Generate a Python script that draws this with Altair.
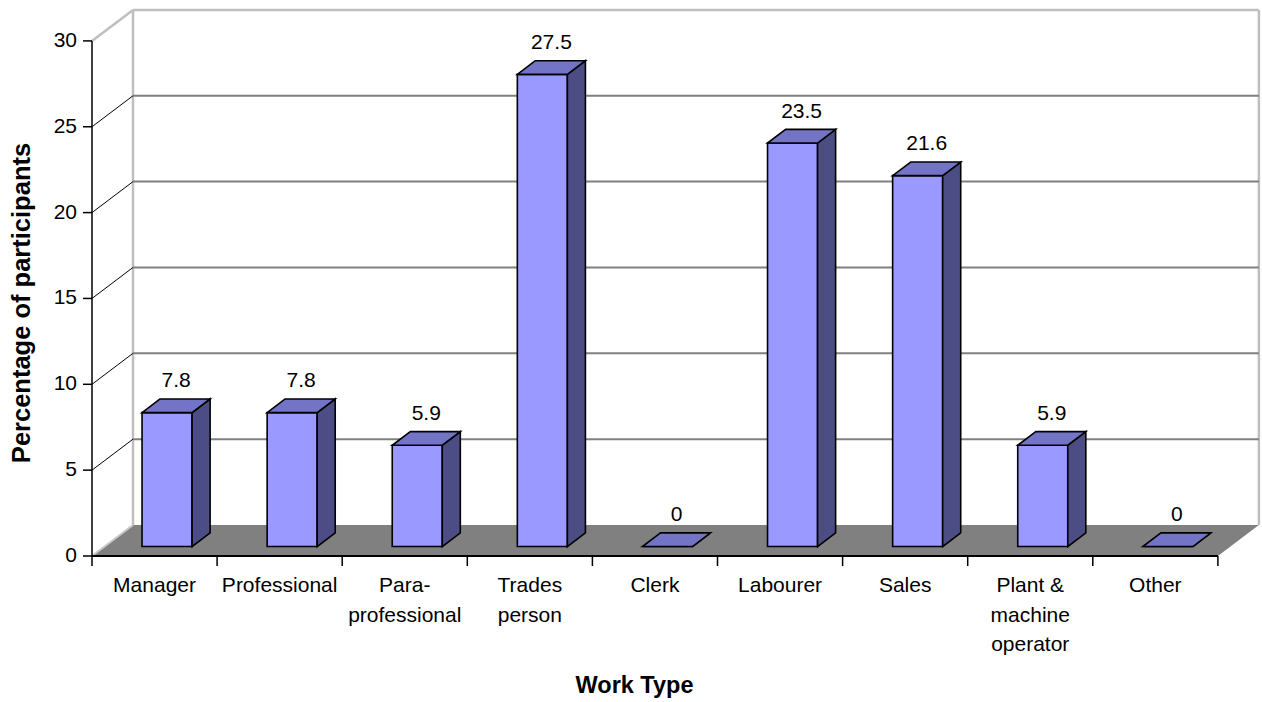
import altair as alt
import pandas as pd

# ---- data ----
categories = ["Manager", "Professional", "Para-\nprofessional", "Trades\nperson", "Clerk",
              "Labourer", "Sales", "Plant &\nmachine\noperator", "Other"]
values = [7.8, 7.8, 5.9, 27.5, 0, 23.5, 21.6, 5.9, 0]
y_ticks = [0, 5, 10, 15, 20, 25, 30]
grid_vals = [5, 10, 15, 20, 25]
y_top = 30
x_title = "Work Type"
y_title = "Percentage of participants"

# ---- geometry / style ----
PX_CAT = 125.1      # pixels per category
PX_UNIT = 17.17     # pixels per value unit
W, H = 1170, 556
X_MAX = W / PX_CAT
Y_MAX = H / PX_UNIT
DX = 41 / PX_CAT    # 3D depth offset (x, in category units)
DY = 31 / PX_UNIT   # 3D depth offset (y, in value units)
F1, F2 = 0.305, 0.745   # front/back depth fraction of bars
BL, BR = 0.3, 0.7       # bar left/right within category
N = len(categories)
FONT = "Liberation Sans"

xs = alt.Scale(domain=[0, X_MAX], nice=False, zero=False)
ys = alt.Scale(domain=[0, Y_MAX], nice=False, zero=False)

def X(f="x"):
    return alt.X(f"{f}:Q", scale=xs, axis=None)

def Y(f="y"):
    return alt.Y(f"{f}:Q", scale=ys, axis=None)

def segs(rows):
    return pd.DataFrame(rows, columns=["x", "y", "x2", "y2"])

def rules(df, **kw):
    return alt.Chart(df).mark_rule(**kw).encode(x=X(), y=Y(), x2="x2", y2="y2")

# walls
wall = segs([
    (DX, DY, DX, y_top + DY),
    (DX, y_top + DY, N + DX, y_top + DY),
    (N + DX, DY, N + DX, y_top + DY),
    (0, y_top, DX, y_top + DY),
])
wall_layer = rules(wall, color="#BFBFBF", strokeWidth=2.5)
back_layer = rules(segs([(DX, v + DY, N + DX, v + DY) for v in grid_vals]),
                   color="#808080", strokeWidth=2)
diag_layer = rules(segs([(0, v, DX, v + DY) for v in grid_vals]),
                   color="#000000", strokeWidth=1)

# floor
floor = pd.DataFrame({"y": [0, DY], "x": [0, DX], "x2": [N, N + DX]})
floor_layer = alt.Chart(floor).mark_area(orient="horizontal", color="#808080", opacity=1).encode(
    y=Y(), x=X(), x2="x2")
floor_edge_layer = rules(segs([(0, 0, DX, DY)]), color="#C8C8C8", strokeWidth=2)

# axes drawn as marks
TICK_X = 9 / PX_CAT
TICK_Y = 10 / PX_UNIT
yaxis_layer = rules(segs([(0, 0, 0, y_top)]), color="#000000", strokeWidth=1.5)
ytick_layer = rules(segs([(-TICK_X, v, 0, v) for v in y_ticks]), color="#000000", strokeWidth=1.5)
front_edge_layer = rules(segs([(0, 0, N, 0)]), color="#000000", strokeWidth=2)
xtick_layer = rules(segs([(i, -TICK_Y, i, 0) for i in range(N + 1)]), color="#000000", strokeWidth=1.5)

ylab_df = pd.DataFrame({"x": [0] * len(y_ticks), "y": y_ticks, "t": [str(v) for v in y_ticks]})
ylab_layer = alt.Chart(ylab_df).mark_text(
    font=FONT, fontSize=21, color="#000000", align="right", baseline="middle", dx=-15).encode(
    x=X(), y=Y(), text="t:N")

title_df = pd.DataFrame({
    "x": [(634.5 - 92) / PX_CAT, (22 - 92) / PX_CAT],
    "y": [-(686 - 556) / PX_UNIT, (556 - 303) / PX_UNIT],
    "t": [x_title, y_title],
})
xtitle_layer = alt.Chart(title_df.iloc[[0]]).mark_text(
    font=FONT, fontSize=23.5, fontWeight="bold", color="#000000", align="center",
    baseline="middle").encode(x=X(), y=Y(), text="t:N")
ytitle_layer = alt.Chart(title_df.iloc[[1]]).mark_text(
    font=FONT, fontSize=25.5, fontWeight="bold", color="#000000", align="center",
    baseline="middle", angle=270).encode(x=X(), y=Y(), text="t:N")

# bars
front_rows, top_rows, side_rows, lab_rows = [], [], [], []
for i, v in enumerate(values):
    front_rows.append({"x": i + BL + F1 * DX, "x2": i + BR + F1 * DX,
                       "y": F1 * DY, "y2": F1 * DY + v})
    top_rows.append({"id": i, "y": F1 * DY + v, "x": i + BL + F1 * DX, "x2": i + BR + F1 * DX})
    top_rows.append({"id": i, "y": F2 * DY + v, "x": i + BL + F2 * DX, "x2": i + BR + F2 * DX})
    side_rows.append({"id": i, "x": i + BR + F1 * DX, "y": F1 * DY, "y2": F1 * DY + v})
    side_rows.append({"id": i, "x": i + BR + F2 * DX, "y": F2 * DY, "y2": F2 * DY + v})
    m = (F1 + F2) / 2
    lab_rows.append({"x": i + 0.5 + m * DX, "y": v + m * DY, "t": f"{v:g}"})

front_layer = alt.Chart(pd.DataFrame(front_rows)).mark_rect(
    fill="#9999FF", stroke="#000000", strokeWidth=1.6).encode(
    x=X(), x2="x2", y=Y(), y2="y2")
top_layer = alt.Chart(pd.DataFrame(top_rows)).mark_area(
    orient="horizontal", fill="#7474C6", stroke="#000000", strokeWidth=1.6,
    strokeJoin="miter", opacity=1).encode(
    y=Y(), x=X(), x2="x2", detail="id:N")
side_layer = alt.Chart(pd.DataFrame(side_rows)).mark_area(
    orient="vertical", fill="#4D4D85", stroke="#000000", strokeWidth=1.6,
    strokeJoin="miter", opacity=1).encode(
    x=X(), y=Y(), y2="y2", detail="id:N")
val_layer = alt.Chart(pd.DataFrame(lab_rows)).mark_text(
    font=FONT, fontSize=21, color="#000000", baseline="middle", align="center", dy=-24.5).encode(
    x=X(), y=Y(), text="t:N")

cat_df = pd.DataFrame({"x": [i + 0.5 for i in range(N)], "y": [0] * N, "t": categories})
cat_layer = alt.Chart(cat_df).mark_text(
    font=FONT, fontSize=21, color="#000000", baseline="top", align="center",
    dy=19, lineBreak="\n", lineHeight=29.5).encode(
    x=X(), y=Y(), text="t:N")

chart = alt.layer(
    wall_layer, back_layer, diag_layer, floor_layer, floor_edge_layer,
    yaxis_layer, ytick_layer, front_edge_layer, xtick_layer,
    front_layer, side_layer, top_layer,
    val_layer, cat_layer, ylab_layer, xtitle_layer, ytitle_layer
).properties(
    width=W, height=H,
    autosize=alt.AutoSizeParams(type="none"),
    padding={"left": 92, "top": 0, "right": 0, "bottom": 146},
    background="#FFFFFF",
).configure_view(stroke=None)

chart.save("out.html", embed_options={"renderer": "svg", "actions": False})
